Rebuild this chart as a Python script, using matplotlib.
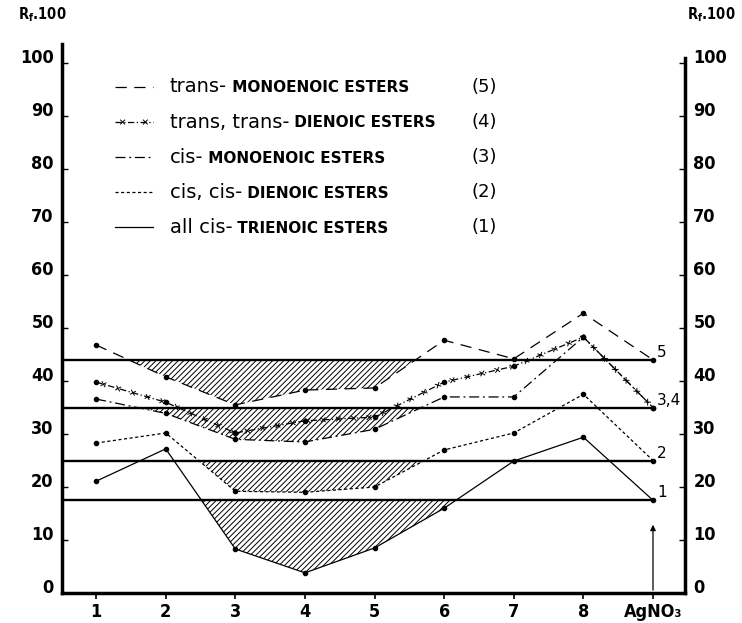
import numpy as np
import matplotlib.pyplot as plt
import matplotlib.patheffects as pe

# posiciones del eje x: disolventes 1..8 y la referencia AgNO3
x = np.arange(1, 10)
x_labels = ["1", "2", "3", "4", "5", "6", "7", "8", "AgNO₃"]

# Rf.100 (ultimo valor = placa con AgNO3)
rf5 = [46.8, 40.8, 35.5, 38.3, 38.7, 47.7, 44.2, 52.8, 44.0]
rf4 = [39.8, 36.0, 30.2, 32.5, 33.2, 39.8, 42.8, 48.3, 35.0]
rf3 = [36.6, 33.9, 29.0, 28.5, 30.9, 37.0, 37.0, 48.3, 35.0]
rf2 = [28.3, 30.2, 19.2, 19.0, 20.0, 27.0, 30.2, 37.5, 25.0]
rf1 = [21.1, 27.2, 8.3, 3.8, 8.5, 16.0, 24.9, 29.4, 17.5]

prefijos = ["trans-", "trans, trans-", "cis-", "cis, cis-", "all cis-"]
nombres = [" MONOENOIC ESTERS", " DIENOIC ESTERS", " MONOENOIC ESTERS",
           " DIENOIC ESTERS", " TRIENOIC ESTERS"]
numeros = ["(5)", "(4)", "(3)", "(2)", "(1)"]
etiquetas_fin = ["5", "3,4", "2", "1"]

plt.rcParams['font.family'] = ['DejaVu Sans']
plt.rcParams['font.weight'] = 'bold'
plt.rcParams['font.stretch'] = 'condensed'
plt.rcParams['mathtext.fontset'] = 'custom'
plt.rcParams['mathtext.bf'] = 'DejaVu Sans:bold'
plt.rcParams['hatch.linewidth'] = 0.7


def cruces():
    # pequeñas x a lo largo de la linea (trans,trans)
    return [pe.Normal()] + [pe.TickedStroke(spacing=11, angle=a, length=0.22, linewidth=0.7)
                            for a in (45, -135, 135, -45)]


estilos = [
    dict(ls=(0, (9, 6)), lw=0.9),
    dict(ls=(0, (5, 2, 1, 2)), lw=0.9, path_effects=cruces()),
    dict(ls=(0, (8, 3, 1.5, 3)), lw=0.9),
    dict(ls=(0, (2.5, 2)), lw=0.9),
    dict(ls='-', lw=0.9),
]
series = [rf5, rf4, rf3, rf2, rf1]

fig = plt.figure(figsize=(7.42, 6.23), dpi=100)
ax = fig.add_axes([0.0836, 0.0482, 0.8396, 0.881])
ax.set_xlim(0.51, 9.46)
ax.set_ylim(0, 103.6)

# zonas rayadas bajo cada referencia de AgNO3
bandas = [(np.array(rf5), rf5[-1]),
          (np.minimum(rf3, rf4), rf4[-1]),
          (np.array(rf2), rf2[-1]),
          (np.array(rf1), rf1[-1])]
for s, nivel in bandas:
    ax.fill_between(x, s, nivel, where=s < nivel, interpolate=True,
                    facecolor='none', edgecolor='k', hatch='//////', lw=0)

niveles = [b[1] for b in bandas]
ax.hlines(niveles, ax.get_xlim()[0], x[-1], colors='k', lw=1.7)

for s, est in zip(series, estilos):
    ax.plot(x, s, color='k', **est)
    ax.plot(x, s, ls='none', marker='o', ms=3, color='k')

for nivel, txt in zip(niveles, etiquetas_fin):
    ax.annotate(txt, (x[-1], nivel), xytext=(3, 0), textcoords='offset points',
                ha='left', va='bottom', fontsize=11, weight='normal', stretch='normal')

ax.annotate('', xy=(x[-1], 13.4), xytext=(x[-1], 0),
            arrowprops=dict(arrowstyle='-|>', color='k', lw=0.9, mutation_scale=8))

# leyenda dibujada a mano
for i, (est, pre, nom, num) in enumerate(zip(estilos, prefijos, nombres, numeros)):
    fy = 0.922 - i * 0.064
    ax.plot([0.085, 0.146], [fy, fy], transform=ax.transAxes, color='k', **est)
    t = ax.text(0.173, fy, pre, transform=ax.transAxes, weight='normal',
                stretch='normal', size=14, va='center')
    ax.annotate(nom, xy=(1, 0.45), xycoords=t, va='center', ha='left',
                weight='bold', stretch='normal', size=11)
    ax.text(0.677, fy, num, transform=ax.transAxes, weight='normal',
            stretch='normal', size=13, va='center', ha='center')

for lado in ['left', 'bottom', 'right']:
    ax.spines[lado].set_linewidth(2.5)
ax.spines['top'].set_visible(False)
ax.spines['right'].set_bounds(0, 101)

ax.set_xticks(x, x_labels)
ax.set_yticks(range(0, 101, 10))
ax.tick_params(axis='y', direction='in', length=4, width=1, left=True, right=True,
               labelleft=True, labelright=True, pad=6, labelsize=13)
ax.tick_params(axis='x', direction='out', length=4, width=1.2, pad=3, labelsize=13)
for tk in ax.yaxis.get_major_ticks():
    tk.label1.set_verticalalignment('baseline')
    tk.label2.set_verticalalignment('baseline')

fig.text(18 / 742, 1 - 15 / 623, r"$\mathbf{R_f}$.100", ha='left', va='center', size=10.5)
fig.text(736 / 742, 1 - 15 / 623, r"$\mathbf{R_f}$.100", ha='right', va='center', size=10.5)

fig.savefig("out.png", dpi=100)
